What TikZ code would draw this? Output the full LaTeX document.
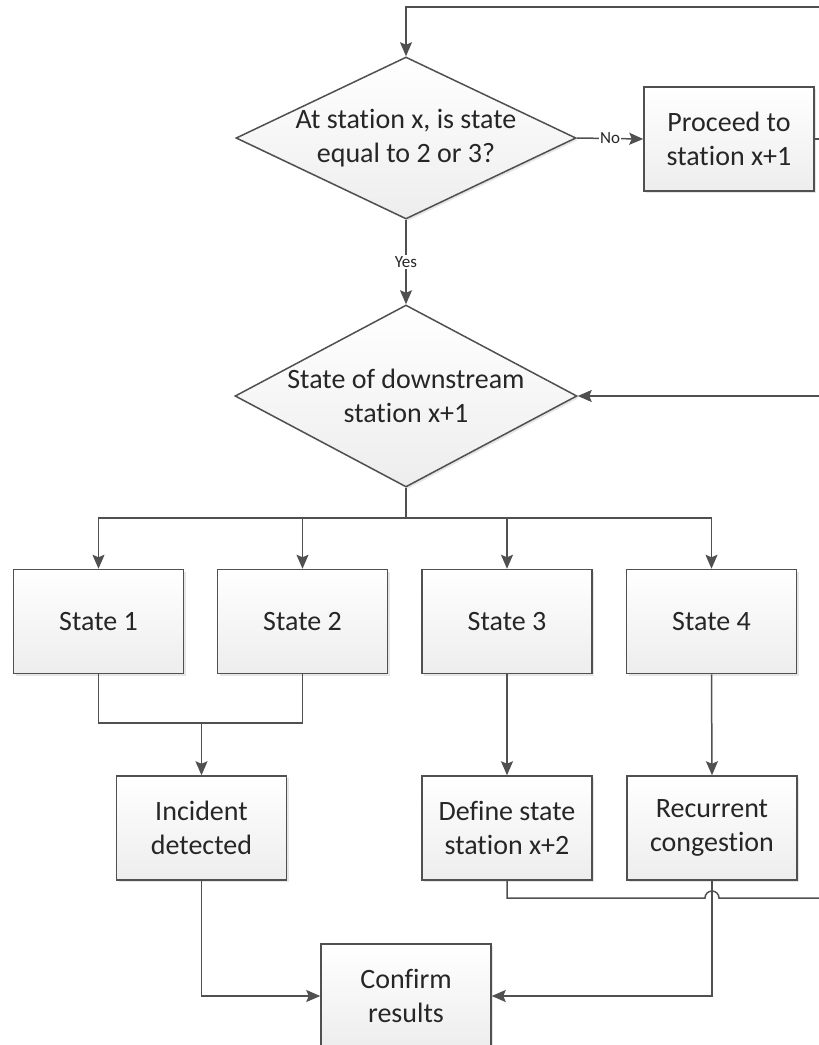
\documentclass[tikz,border=0pt]{standalone}
\usepackage{fontspec}
\setmainfont{Carlito}[Ligatures=NoCommon]
\usetikzlibrary{shapes.geometric,arrows.meta,shadows}
\definecolor{linegray}{HTML}{505050}
\definecolor{txtgray}{HTML}{262626}
\tikzset{
  base/.style={draw=linegray, line width=1.5pt, top color=white, bottom color=black!7,
    drop shadow={shadow xshift=2pt, shadow yshift=-2pt, opacity=0.2}},
  box/.style={base, rectangle, minimum width=170pt, minimum height=104pt, inner sep=0pt,
    text=txtgray, font=\fontsize{28}{34}\selectfont, align=center},
  decision/.style={base, diamond, inner sep=0pt},
  dtext/.style={text=txtgray, font=\fontsize{28}{34}\selectfont, align=center, inner sep=0pt},
  conn/.style={draw=linegray, line width=1.5pt},
  arr/.style={conn, -{Stealth[length=14pt,width=12pt,inset=2.5pt]}},
  lbl/.style={font=\fontsize{17}{20}\selectfont, text=txtgray, fill=white, inner sep=1pt},
}
\begin{document}
\begin{tikzpicture}[x=1pt, y=-1pt]
\useasboundingbox (0,0) rectangle (819,1045);

% decisions
\node[decision, minimum width=340pt, minimum height=162pt] (d1) at (406,138) {};
\node[dtext] (t1) at (d1.center) {At station x, is state\\equal to 2 or 3?};
\node[decision, minimum width=342pt, minimum height=182pt] (d2) at (406,396) {};
\node[dtext] (t2) at (d2.center) {State of downstream\\station x+1};

% process boxes
\node[box] (p) at (729,139) {Proceed to\\station x+1};
\node[box] (s1) at (98.5,621.5) {State 1};
\node[box] (s2) at (302.5,621.5) {State 2};
\node[box] (s3) at (507,621.5) {State 3};
\node[box] (s4) at (711.5,621.5) {State 4};
\node[box] (inc) at (201.5,828) {Incident\\detected};
\node[box] (def) at (507,828) {Define state\\station x+2};
\node[box] (rec) at (712,828) {Recurrent\\congestion};
\node[box] (conf) at (406,996) {Confirm\\results};

% loose ends running off the right side
\coordinate (rtop) at (822,7);
\coordinate (pout) at (822,139);
\coordinate (rin) at (822,396);
\coordinate (rout) at (822,898);
\coordinate (split) at (406,518);
\coordinate (m12) at (201.5,723);
\coordinate (dturn) at (507,898);

% connectors
\draw[arr] (rtop) -| (d1.north);
\draw[arr] (d1.east) -- node[lbl] {No} (p.west);
\draw[conn] (p.east) -- (pout);
\draw[arr] (d1.south) -- node[lbl] {Yes} (d2.north);
\draw[arr] (rin) -- (d2.east);

\draw[conn] (d2.south) -- (split);
\draw[arr] (split) -| (s1.north);
\draw[arr] (split) -| (s2.north);
\draw[arr] (split) -| (s3.north);
\draw[arr] (split) -| (s4.north);

\draw[conn] (s1.south) |- (m12);
\draw[conn] (s2.south) |- (m12);
\draw[arr] (m12) -- (inc.north);
\draw[arr] (s3.south) -- (def.north);
\draw[arr] (s4.south) -- (rec.north);

\draw[arr] (inc.south) |- (conf.west);
\draw[arr] (rec.south) |- (conf.east);
\draw[conn] (def.south) -- (dturn) -- ([xshift=-7pt]rec.south |- dturn)
  arc[start angle=180, end angle=0, radius=7pt] -- (rout);
\end{tikzpicture}
\end{document}
